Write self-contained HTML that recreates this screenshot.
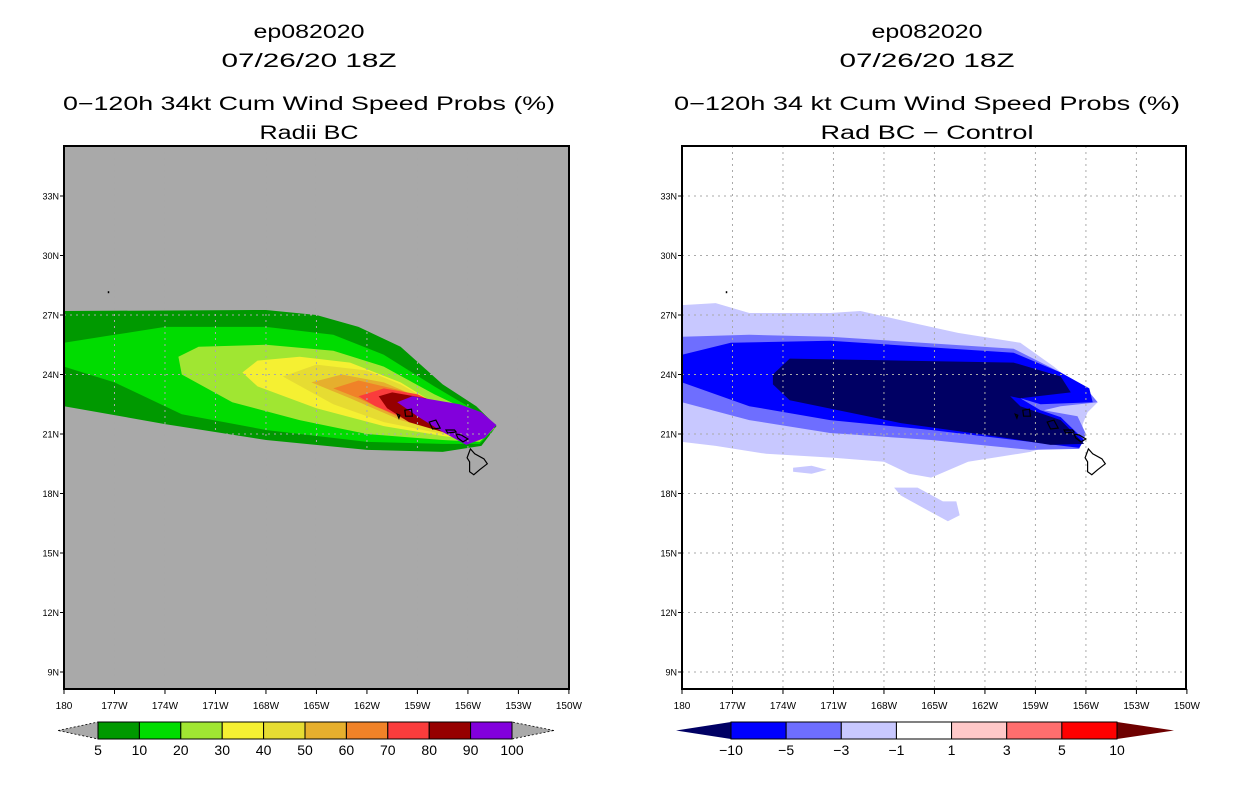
<!DOCTYPE html>
<html><head><meta charset="utf-8">
<style>
html,body{margin:0;padding:0;background:#fff;}
svg{display:block;font-family:"Liberation Sans",sans-serif;}
</style></head>
<body>
<svg id="fig" width="1236" height="800" viewBox="0 0 1236 800" xmlns="http://www.w3.org/2000/svg">
<g font-size="19" fill="#000" text-anchor="middle">
<text x="309" y="38" textLength="111" lengthAdjust="spacingAndGlyphs">ep082020</text>
<text x="309" y="67" textLength="175" lengthAdjust="spacingAndGlyphs">07/26/20 18Z</text>
<text x="309" y="110" textLength="492" lengthAdjust="spacingAndGlyphs">0−120h 34kt Cum Wind Speed Probs (%)</text>
<text x="309" y="139" textLength="99" lengthAdjust="spacingAndGlyphs">Radii BC</text>
</g>
<g font-size="19" fill="#000" text-anchor="middle">
<text x="927" y="38" textLength="111" lengthAdjust="spacingAndGlyphs">ep082020</text>
<text x="927" y="67" textLength="175" lengthAdjust="spacingAndGlyphs">07/26/20 18Z</text>
<text x="927" y="110" textLength="506" lengthAdjust="spacingAndGlyphs">0−120h 34 kt Cum Wind Speed Probs (%)</text>
<text x="927" y="139" textLength="213" lengthAdjust="spacingAndGlyphs">Rad BC − Control</text>
</g>
<g id="leftPanel"></g>
<g id="rightPanel"></g>
<g id="leftCb"></g>
<g id="rightCb"></g>
</svg>
<script>
// ---- axis data ----
const lonTicks = [180,177,174,171,168,165,162,159,156,153,150];
const lonLabels = ['180','177W','174W','171W','168W','165W','162W','159W','156W','153W','150W'];
const latTicks = [9,12,15,18,21,24,27,30,33];
const latLabels = ['9N','12N','15N','18N','21N','24N','27N','30N','33N'];

// ---- left panel: cumulative probability contours (lonW, lat) ----
const leftLevels = [5,10,20,30,40,50,60,70,80,90];
const leftColors = ['#009900','#00dc00','#a0e632','#f5f032','#e6dc32','#e6af2d','#f08228','#fa3c3c','#960000','#8200dc'];
const leftPolys = [
 [[180,27.2],[168,27.25],[165,27],[162.5,26.4],[160,25.4],[157.5,23.5],[155.5,22.4],[154.3,21.4],[155.2,20.4],[157.5,20.1],[162,20.2],[168,20.7],[174,21.5],[180,22.4]],
 [[180,25.6],[177,26.0],[174,26.4],[168,26.4],[164,26.0],[161,25.0],[158,23.4],[155.6,22.2],[154.4,21.3],[155.3,20.5],[157.5,20.5],[162,20.6],[168,21.2],[173,22.0],[177,23.6],[180,24.4]],
 [[173.2,24.9],[172,25.4],[168,25.5],[164,25.2],[161,24.4],[158,23.0],[155.5,22.0],[154.4,21.3],[155.3,20.6],[157.5,20.7],[162,21.0],[166,21.7],[170,22.6],[173,24.0]],
 [[169.4,24.1],[168.5,24.7],[166,24.9],[163,24.6],[160,23.6],[157.5,22.3],[155.5,21.9],[154.5,21.3],[155.4,20.7],[157.5,20.9],[161,21.4],[165,22.3],[168.5,23.4]],
 [[167,23.9],[165,24.5],[162,24.2],[160,23.5],[157.5,22.3],[155.6,21.9],[154.6,21.3],[155.5,20.8],[157.5,21.0],[161,21.6],[164,22.5]],
 [[165.3,23.6],[163.5,24.0],[161,23.6],[158.5,22.7],[155.7,21.9],[154.7,21.3],[155.6,20.9],[157.5,21.1],[160,21.7],[163,22.8]],
 [[164,23.3],[162.5,23.7],[160,23.2],[158,22.5],[155.8,21.9],[154.8,21.3],[155.7,21.0],[157.5,21.2],[160,21.8],[162.5,22.8]],
 [[162.5,22.9],[161,23.3],[159,23.0],[157,22.2],[155.9,21.95],[154.9,21.3],[155.8,20.95],[157.5,21.2],[159.5,21.7],[161.5,22.4]],
 [[161.3,22.9],[160.5,23.1],[158.5,22.8],[156.8,22.15],[156,21.95],[155,21.35],[155.9,20.8],[157.5,21.1],[159.5,21.6],[160.8,22.3]],
 [[160.2,22.6],[159.3,22.9],[156.5,22.5],[155.2,22.1],[154.3,21.45],[155,20.8],[156.1,20.45],[157.5,21.1],[159,21.9]]
];

// ---- right panel: difference contours (lonW, lat) ----
const rightLevels = [-1,-3,-5,-10];
const rightColors = ['#c8c8ff','#6e6eff','#0000ff','#000064'];
const rightPolys = [
 [[180,27.5],[178,27.6],[176,27.1],[171.2,27.1],[169.4,27.2],[166.3,26.6],[163.6,26.1],[159.9,25.6],[157.9,24.4],[155.3,22.6],[155.9,22.1],[156.2,21.5],[156.2,20.9],[159.3,20.1],[163,19.6],[165.2,18.8],[166.5,19.0],[168,19.6],[171,19.8],[175,20.0],[178,20.4],[180,20.6]],
 [[180,25.9],[176,26.0],[171.2,25.9],[160.3,25.3],[157.5,24.1],[155.7,23.0],[155.3,22.6],[157.5,22.4],[158.5,22.2],[156.5,21.9],[156,21.0],[156.4,20.25],[159.3,20.2],[165.2,20.7],[171.2,21.05],[176,21.7],[180,22.6]],
 [[180,25.0],[177.1,25.6],[171.2,25.7],[160.3,25.1],[157.5,24.1],[155.8,23.3],[155.6,22.6],[158.7,22.5],[159.9,22.8],[158.7,22.2],[157.5,21.85],[156.1,20.7],[156.4,20.3],[159.3,20.6],[165.2,21.2],[171.2,21.7],[176,22.4],[180,23.6]],
 [[174.6,24.0],[173.6,24.8],[167,24.7],[160.3,24.6],[157.5,23.9],[156.9,23.1],[159.9,22.8],[160.5,22.9],[159.9,22.4],[157.5,21.7],[156.1,20.5],[158.1,20.45],[161.1,20.85],[167,21.55],[173.6,22.7],[174.6,23.5]]
];
const rightExtraPolys = [
 [[167.4,18.3],[166,18.3],[164.5,17.6],[163.7,17.6],[163.5,16.9],[164.2,16.6],[165.5,17.2],[167,17.9]],
 [[173.4,19.3],[172.3,19.4],[171.4,19.2],[172.3,19.0],[173.4,19.1]]
];

// ---- islands (lonW, lat) ----
const islands = [
 [[155.85,20.25],[155.6,20.0],[155.05,19.75],[154.85,19.5],[155.3,19.2],[155.65,18.95],[155.9,19.1],[155.9,19.6],[156.05,19.8]],
 [[156.7,21.0],[156.4,20.95],[156.0,20.75],[156.3,20.6],[156.6,20.8]],
 [[157.3,21.2],[156.8,21.2],[156.7,21.1],[157.2,21.05]],
 [[158.3,21.6],[157.9,21.7],[157.65,21.3],[158.1,21.25]],
 [[159.75,22.2],[159.35,22.25],[159.3,21.9],[159.7,21.9]],
 [[160.2,22.0],[160.05,21.95],[160.1,21.8]]
];

// ---- colorbars ----
const leftCbLabels = ['5','10','20','30','40','50','60','70','80','90','100'];
const rightCbLabels = ['−10','−5','−3','−1','1','3','5','10'];
const rightCbColors = ['#000064','#0000ff','#6e6eff','#c8c8ff','#ffffff','#ffc8c8','#ff6e6e','#ff0000','#6e0000'];

const NS='http://www.w3.org/2000/svg';
function mk(tag, attrs, parent){const e=document.createElementNS(NS,tag);for(const k in attrs)e.setAttribute(k,attrs[k]);parent.appendChild(e);return e;}
const Y0=146, Y1=689;
function yScale(lat){return 672-(lat-9)*19.833;}
function makeX(x0){return lon=>x0+(180-lon)*16.83;}
function pathOf(poly,xs){return 'M'+poly.map(p=>xs(p[0]).toFixed(1)+','+yScale(p[1]).toFixed(1)).join('L')+'Z';}

function drawPanel(g, x0, x1, bg, polys, colors, extra, gridColor){
  const xs=makeX(x0);
  const r=mk('rect',{x:x0,y:Y0,width:x1-x0,height:Y1-Y0,fill:bg},g);
  
  
  polys.forEach((p,i)=>{
    const el=mk('path',{d:pathOf(p,xs),fill:colors[i]},g);
    
    
  });
  (extra||[]).forEach(p=>{
    const el=mk('path',{d:pathOf(p,xs),fill:colors[0]},g);
    
    
  });
  lonTicks.forEach((lon,i)=>{
    const x=xs(lon);
    if(i>0&&i<lonTicks.length-1){
      const gl=mk('line',{x1:x,x2:x,y1:Y0,y2:Y1,stroke:gridColor,'stroke-width':1,'stroke-dasharray':'2,4'},g);
      
      
    }
    mk('line',{x1:x,x2:x,y1:Y1,y2:Y1+5,stroke:'#000','stroke-width':1},g);
    const t=mk('text',{x:x,y:Y1+20,'font-size':10,'text-anchor':'middle'},g);
    t.textContent=lonLabels[i];
    
    
  });
  latTicks.forEach((lat,i)=>{
    const y=yScale(lat);
    const gl=mk('line',{x1:x0,x2:x1,y1:y,y2:y,stroke:gridColor,'stroke-width':1,'stroke-dasharray':'2,4'},g);
    
    
    mk('line',{x1:x0-4,x2:x0,y1:y,y2:y,stroke:'#000','stroke-width':1},g);
    const t=mk('text',{x:x0-5,y:y+3.5,'font-size':9,'text-anchor':'end'},g);
    t.textContent=latLabels[i];
    
    
  });
  islands.forEach(p=>{
    const el=mk('path',{d:pathOf(p,xs),fill:'none',stroke:'#000','stroke-width':1.2},g);
    
    
  });
  const dot=mk('rect',{x:xs(177.4),y:yScale(28.2),width:1.5,height:2,fill:'#000'},g);
  
  
  const fr=mk('rect',{x:x0,y:Y0,width:x1-x0,height:Y1-Y0,fill:'none',stroke:'#000','stroke-width':2},g);
  
  
}

drawPanel(document.getElementById('leftPanel'),64,569,'#a9a9a9',leftPolys,leftColors,[], '#a9a9a9');
drawPanel(document.getElementById('rightPanel'),682,1186,'#ffffff',rightPolys,rightColors,rightExtraPolys,'#aaaaaa');

function drawCb(g, bx0, bx1, tipL, tipR, colors, labels, leftTri, rightTri, dashedTri){
  const n=colors.length, w=(bx1-bx0)/n, ya=722, yb=739, ym=730.5;
  const t1=mk('path',{d:`M${tipL},${ym}L${bx0},${ya}L${bx0},${yb}Z`,fill:leftTri,stroke:dashedTri?'#000':'none','stroke-width':0.8,'stroke-dasharray':dashedTri?'2,2':'none'},g);
  
  
  const t2=mk('path',{d:`M${tipR},${ym}L${bx1},${ya}L${bx1},${yb}Z`,fill:rightTri,stroke:dashedTri?'#000':'none','stroke-width':0.8,'stroke-dasharray':dashedTri?'2,2':'none'},g);
  
  
  colors.forEach((c,i)=>{
    const r=mk('rect',{x:bx0+i*w,y:ya,width:w,height:yb-ya,fill:c,stroke:'#000','stroke-width':1},g);
    
    
  });
  labels.forEach((l,i)=>{
    const t=mk('text',{x:bx0+i*w,y:755,'font-size':14,'text-anchor':'middle'},g);
    t.textContent=l;
    
    
  });
}
drawCb(document.getElementById('leftCb'),98,512,58,554,leftColors,leftCbLabels,'#a9a9a9','#a9a9a9',true);
drawCb(document.getElementById('rightCb'),731,1117,676,1174,rightCbColors.slice(1,8),rightCbLabels,rightCbColors[0],rightCbColors[8],false);
</script>
</body></html>
